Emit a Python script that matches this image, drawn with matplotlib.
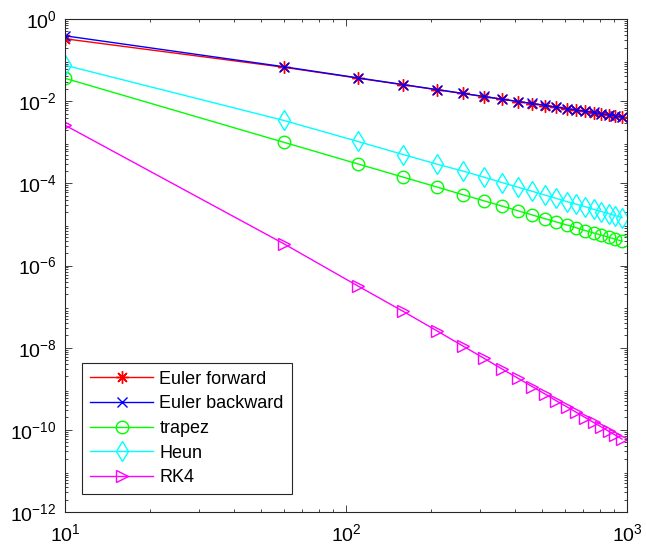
import numpy as np
import matplotlib
matplotlib.use('Agg')
import matplotlib.pyplot as plt

# step counts N (10:50:960)
n_steps = [10, 60, 110, 160, 210, 260, 310, 360, 410, 460,
           510, 560, 610, 660, 710, 760, 810, 860, 910, 960]

# global errors
err_euler_fwd = [0.33, 0.067, 0.0364, 0.025, 0.019, 0.0154, 0.0129, 0.0111,
                 0.00976, 0.0087, 0.00784, 0.00714, 0.00656, 0.00606,
                 0.00563, 0.00526, 0.00494, 0.00465, 0.0044, 0.00417]
err_euler_bwd = [0.39, 0.069, 0.0370, 0.0253, 0.0192, 0.0155, 0.0130, 0.0112,
                 0.0098, 0.0088, 0.0079, 0.0072, 0.0066, 0.0061, 0.0057,
                 0.0053, 0.0050, 0.0047, 0.0044, 0.0042]
err_trapez = [0.036, 1.0e-3, 2.98e-4, 1.41e-4, 8.2e-5, 5.3e-5, 3.75e-5,
              2.78e-5, 2.14e-5, 1.70e-5, 1.38e-5, 1.15e-5, 9.7e-6, 8.3e-6,
              7.1e-6, 6.2e-6, 5.5e-6, 4.9e-6, 4.35e-6, 3.9e-6]
err_heun = [0.075, 3.4e-3, 1.05e-3, 5.0e-4, 2.95e-4, 2.0e-4, 1.41e-4, 1.04e-4,
            8.0e-5, 6.4e-5, 5.2e-5, 4.3e-5, 3.6e-5, 3.1e-5, 2.7e-5, 2.34e-5,
            2.06e-5, 1.83e-5, 1.63e-5, 1.47e-5]
err_rk4 = [2.6e-3, 3.4e-6, 3.2e-7, 7.6e-8, 2.6e-8, 1.11e-8, 5.5e-9, 3.0e-9,
           1.79e-9, 1.13e-9, 7.5e-10, 5.1e-10, 3.65e-10, 2.67e-10, 1.99e-10,
           1.52e-10, 1.18e-10, 9.25e-11, 7.4e-11, 5.96e-11]

labels = ['Euler forward', 'Euler backward', 'trapez', 'Heun', 'RK4']

plt.rcParams['font.family'] = ['Liberation Sans', 'DejaVu Sans']
plt.rcParams['mathtext.fontset'] = 'custom'
plt.rcParams['mathtext.rm'] = 'Liberation Sans'

fig = plt.figure(figsize=(6.46, 5.49), dpi=100)
ax = fig.add_axes([65 / 646, 1 - 512 / 549, 562 / 646, 493 / 549])

lw = 1.0
ax.loglog(n_steps, err_euler_fwd, '-', color='#ff0000', marker=(8, 2, 0),
          ms=9, mew=1.0, lw=lw, label=labels[0])
ax.loglog(n_steps, err_euler_bwd, '-', color='#0000ff', marker='x',
          ms=7, mew=1.0, lw=lw, label=labels[1])
ax.loglog(n_steps, err_trapez, '-', color='#00ff00', marker='o',
          ms=9, mfc='none', mew=1.0, lw=lw, label=labels[2])
ax.loglog(n_steps, err_heun, '-', color='#00ffff', marker='d',
          ms=10, mfc='none', mew=1.0, lw=lw, label=labels[3])
ax.loglog(n_steps, err_rk4, '-', color='#ff00ff', marker='>',
          ms=9, mfc='none', mew=1.0, lw=lw, label=labels[4])

ax.set_xlim(10, 1000)
ax.set_ylim(1e-12, 1)
ax.set_yticks([1e-12, 1e-10, 1e-8, 1e-6, 1e-4, 1e-2, 1])
ax.yaxis.set_minor_locator(matplotlib.ticker.LogLocator(base=10, subs=np.arange(2, 10), numticks=20))
ax.yaxis.set_minor_formatter(matplotlib.ticker.NullFormatter())

ax.tick_params(which='both', direction='in', top=True, right=True,
               colors='#262626', labelcolor='black', labelsize=14, width=0.6)
ax.tick_params(which='major', length=5)
ax.tick_params(which='minor', length=2.5)
ax.tick_params(axis='x', which='major', pad=8)
ax.tick_params(axis='y', which='major', pad=6)
for sp in ax.spines.values():
    sp.set_color('#262626')
    sp.set_linewidth(0.8)

leg = ax.legend(loc='lower left', bbox_to_anchor=(0.03, 0.036), fontsize=13,
                fancybox=False, framealpha=1, edgecolor='#262626',
                handlelength=3.5, borderaxespad=0, labelspacing=0.42,
                borderpad=0.45, handletextpad=0.35)
leg.get_frame().set_linewidth(0.8)

fig.savefig('out.png', dpi=100)
